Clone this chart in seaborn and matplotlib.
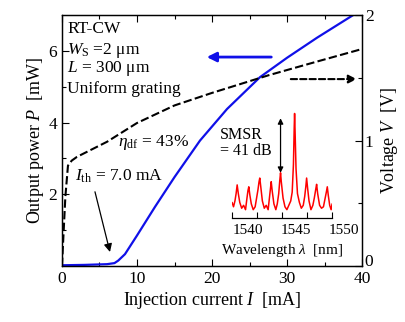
import numpy as np
import pandas as pd
import matplotlib
matplotlib.use("Agg")
import matplotlib.pyplot as plt
import matplotlib.transforms as mtransforms
import seaborn as sns

# L-I curve (output power, left axis)
cur_p = [0, 3, 6, 7, 7.5, 8.4, 10, 12.4, 15, 18.4, 22, 26.4, 30, 34, 38.8, 40]
power = [0.02, 0.03, 0.05, 0.08, 0.15, 0.33, 0.85, 1.65, 2.48, 3.5, 4.38, 5.27, 5.81, 6.37, 7.0, 7.15]

# I-V curve (voltage, right axis)
cur_v = [0, 0.17, 0.45, 0.8, 1.3, 2, 4, 6, 10, 15, 20, 27.5, 34, 40]
volt = [0, 0.21, 0.55, 0.8, 0.84, 0.87, 0.93, 0.99, 1.14, 1.28, 1.38, 1.52, 1.63, 1.73]

# lasing spectrum (inset), dB relative to main peak
wl = [1538.40, 1538.55, 1538.70, 1538.82, 1538.93, 1539.05, 1539.20, 1539.40, 1539.60, 1539.80,
      1539.95, 1540.05, 1540.14, 1540.25, 1540.40, 1540.60, 1540.80, 1540.95, 1541.10, 1541.20,
      1541.28, 1541.38, 1541.55, 1541.75, 1541.95, 1542.15, 1542.30, 1542.40, 1542.47, 1542.57,
      1542.75, 1542.95, 1543.10, 1543.25, 1543.36, 1543.44, 1543.52, 1543.70, 1543.90, 1544.10,
      1544.30, 1544.50, 1544.65, 1544.78, 1544.86, 1544.90, 1544.95, 1545.05, 1545.20, 1545.40,
      1545.60, 1545.80, 1545.95, 1546.07, 1546.15, 1546.25, 1546.40, 1546.60, 1546.80, 1546.95,
      1547.10, 1547.19, 1547.30, 1547.50, 1547.70, 1547.90, 1548.05, 1548.20, 1548.30, 1548.40,
      1548.55, 1548.70, 1548.80]
spec = [-61, -64, -60, -55, -49, -55, -61, -65, -63, -66,
        -58, -53, -50.3, -56, -62, -66, -64, -58, -52, -47,
        -44.3, -50, -60, -65, -63, -66, -57, -51, -46.8, -53,
        -62, -66, -62, -55, -46, -40.7, -47, -58, -64, -66,
        -63, -60, -54, -35, -10, 0, -12, -38, -55, -61,
        -65, -63, -57, -50, -44.3, -51, -60, -66, -63, -58,
        -52, -48.6, -55, -63, -65, -64, -59, -54, -50.3, -56,
        -63, -66, -62]

wl_ticks = [1540, 1545, 1550]

sns.set_style("ticks")
plt.rcParams['font.family'] = ['Liberation Serif', 'DejaVu Serif']
plt.rcParams['mathtext.fontset'] = 'custom'
plt.rcParams['mathtext.rm'] = 'Liberation Serif'
plt.rcParams['mathtext.it'] = 'Liberation Serif:italic'
plt.rcParams['xtick.direction'] = 'in'
plt.rcParams['ytick.direction'] = 'in'
for k in ('text.color', 'axes.labelcolor', 'xtick.color', 'ytick.color', 'axes.edgecolor'):
    plt.rcParams[k] = 'black'

FS = 12.5
fig = plt.figure(figsize=(4.05, 3.22), dpi=100)
ax = fig.add_axes([0.153, 0.174, 0.741, 0.779])
ax2 = ax.twinx()

df_p = pd.DataFrame({'I': cur_p, 'P': power})
df_v = pd.DataFrame({'I': cur_v, 'V': volt})
sns.lineplot(data=df_p, x='I', y='P', ax=ax, color='#1010e8', lw=1.6, estimator=None)
sns.lineplot(data=df_v, x='I', y='V', ax=ax2, color='black', lw=1.5, estimator=None,
             dashes=False)
ax2.lines[0].set_dashes((4, 1.6))

ax.set_xlim(0, 40)
ax.set_ylim(0, 7)
ax2.set_ylim(0, 2)
ax.set_xticks([0, 10, 20, 30, 40])
ax.set_xticks([5, 15, 25, 35], minor=True)
ax.set_yticks([2, 4, 6])
ax.set_yticks([1, 3, 5], minor=True)
ax2.set_yticks([0, 1, 2])
ax2.set_yticks([0.5, 1.5], minor=True)
ax.tick_params(which='both', top=True, right=False, labelsize=FS)
ax.tick_params(which='major', length=5, width=0.8)
ax.tick_params(which='minor', length=3, width=0.8)
ax2.tick_params(which='major', length=5, width=0.8, labelsize=FS, pad=2)
ax2.tick_params(which='minor', length=3, width=0.8)
for a in (ax, ax2):
    for s in a.spines.values():
        s.set_linewidth(0.9)

# lift the right-hand "0" a little so it clears the "40" below it
fig.canvas.draw()
lab0 = ax2.get_yticklabels()[0]
lab0.set_transform(lab0.get_transform() + mtransforms.ScaledTranslation(0, 4 / 72, fig.dpi_scale_trans))

ax.set_xlabel('Injection current $I$  [mA]', fontsize=13, labelpad=2)
ax.set_ylabel('Output power $P$  [mW]', fontsize=13, labelpad=2)
ax2.set_ylabel('Voltage $V$  [V]', fontsize=13, labelpad=4)

# text block
ax.text(0.7, 6.6, 'RT-CW', fontsize=FS, va='center')
ax.text(0.7, 6.0, '$W_\\mathrm{S}$ =2 μm', fontsize=FS, va='center')
ax.text(0.7, 5.5, '$L$ = 300 μm', fontsize=FS, va='center')
ax.text(0.7, 4.95, 'Uniform grating', fontsize=FS, va='center')
ax.text(7.5, 3.45, '$\\eta_\\mathrm{df}$ = 43%', fontsize=FS, va='center')
ax.text(1.7, 2.5, '$I_\\mathrm{th}$ = 7.0 mA', fontsize=FS, va='center')
ax.annotate('', xy=(6.4, 0.39), xytext=(4.4, 2.07),
            arrowprops=dict(arrowstyle='-|>', color='black', lw=0.9,
                            mutation_scale=12, shrinkA=0, shrinkB=0))
ax.annotate('', xy=(19.3, 5.83), xytext=(27.9, 5.83),
            arrowprops=dict(arrowstyle='-|>', color='#1010e8', lw=2,
                            mutation_scale=14, shrinkA=0, shrinkB=0))
ax2.annotate('', xy=(39.3, 1.49), xytext=(30.5, 1.49),
             arrowprops=dict(arrowstyle='-|>', color='black', lw=1.5, ls=(0, (3, 1.5)),
                             mutation_scale=12, shrinkA=0, shrinkB=0))
ax.text(21.1, 3.65, 'SMSR', fontsize=11.5, va='center')
ax.text(21.1, 3.2, '= 41 dB', fontsize=11.5, va='center')

# inset spectrum
axin = fig.add_axes([0.573, 0.323, 0.247, 0.335])
axin.patch.set_alpha(0)
sns.lineplot(x=wl, y=spec, ax=axin, color='red', lw=1.1, estimator=None)
axin.set_xlim(1538.4, 1548.8)
axin.set_ylim(-71.7, 2.3)
axin.set_xticks(np.linspace(1538.4, 1548.8, 5))
axin.set_xticklabels([])
axin.set_yticks([])
axin.tick_params(axis='x', direction='in', length=4, width=0.8)
for s in ('left', 'right', 'top'):
    axin.spines[s].set_visible(False)
axin.spines['bottom'].set_linewidth(0.9)
trans = mtransforms.blended_transform_factory(axin.transData, axin.transAxes)
for t in wl_ticks:
    axin.text(t, -0.06, str(t), transform=trans, ha='center', va='top', fontsize=11,
              clip_on=False)
axin.text(0.5, -0.22, 'Wavelength $\\lambda$  [nm]', transform=axin.transAxes,
          ha='center', va='top', fontsize=11)
axin.annotate('', xy=(1543.44, -40.7), xytext=(1543.44, -3.3),
              arrowprops=dict(arrowstyle='<|-|>', color='black', lw=0.9,
                              mutation_scale=8, shrinkA=0, shrinkB=0))

fig.savefig('out.png', dpi=100)
